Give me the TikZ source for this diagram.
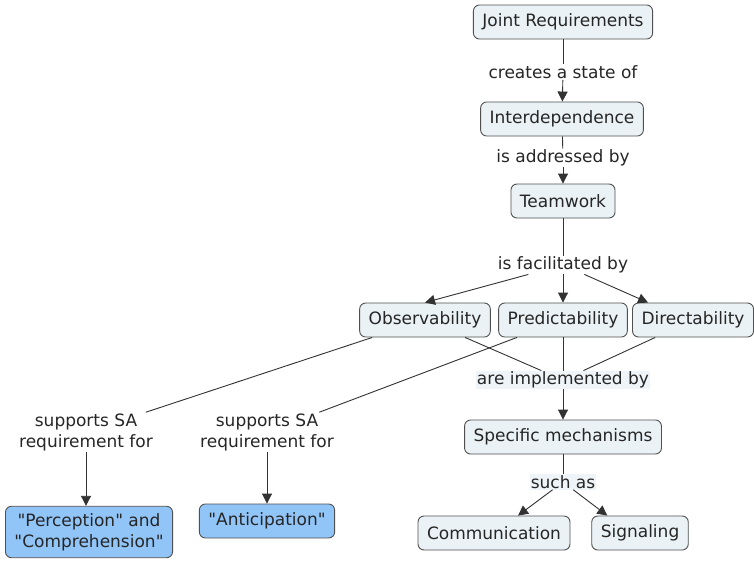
\documentclass[tikz,border=0pt]{standalone}
\usepackage{fontspec}
\setmainfont{DejaVu Sans}
\usetikzlibrary{arrows.meta,calc}
\definecolor{conceptfill}{RGB}{234,242,245}
\definecolor{conceptline}{RGB}{80,80,80}
\definecolor{keyfill}{RGB}{145,196,247}
\definecolor{linkline}{RGB}{50,50,50}
\definecolor{phrasefill}{RGB}{238,244,247}
\begin{document}
\begin{tikzpicture}[x=1pt,y=-1pt,
  font=\fontsize{17}{21}\selectfont,
  concept/.style={draw=conceptline, fill=conceptfill, rounded corners=6pt,
    line width=0.9pt, inner xsep=9pt, minimum height=34pt, text=black!85},
  keyconcept/.style={concept, fill=keyfill, align=center},
  linkphrase/.style={inner sep=1pt, align=center, text=black!85},
  shaded/.style={fill=phrasefill},
  conn/.style={draw=linkline, line width=0.9pt},
  arr/.style={conn, -{Triangle[length=10pt,width=10pt]}}]
\useasboundingbox[fill=white] (0,0) rectangle (754,560);

% concepts
\node[concept] (jr)   at (563,22)  {Joint Requirements};
\node[concept] (int)  at (562,119) {Interdependence};
\node[concept] (tw)   at (563,201) {Teamwork};
\node[concept] (obs)  at (425,320) {Observability};
\node[concept] (pred) at (563,320) {Predictability};
\node[concept] (dir)  at (693,320) {Directability};
\node[concept] (spec) at (563,437) {Specific mechanisms};
\node[concept] (comm) at (494,533) {Communication};
\node[concept] (sig)  at (640,533) {Signaling};
\node[keyconcept, inner ysep=7pt] (pc) at (89,532)
  {\textquotedbl Perception\textquotedbl{} and\\\textquotedbl Comprehension\textquotedbl};
\node[keyconcept] (ant) at (267,521) {\textquotedbl Anticipation\textquotedbl};

% linking phrases
\node[linkphrase] (l1) at (563,72)  {creates a state of};
\node[linkphrase] (l2) at (563,158) {is addressed by};
\node[linkphrase] (l3) at (563,265) {is facilitated by};
\node[linkphrase, shaded] (l4) at (563,380) {are implemented by};
\node[linkphrase, shaded] (l5) at (563,482) {such as};
\node[linkphrase] (sa1) at (86,432)  {supports SA\\requirement for};
\node[linkphrase] (sa2) at (267,432) {supports SA\\requirement for};

% connections
\draw[conn] (jr) -- (l1);
\draw[arr]  (l1) -- (int);
\draw[conn] (int) -- (l2);
\draw[arr]  (l2) -- (tw);
\draw[conn] (tw) -- (l3);
\draw[arr]  (l3) -- (obs.north);
\draw[arr]  (l3) -- (pred);
\draw[arr]  (l3) -- ($(dir.north west)+(16,0)$);
\draw[conn] (obs) -- (l4);
\draw[conn] (pred) -- (l4);
\draw[conn] (dir) -- (l4);
\draw[arr]  (l4) -- (spec);
\draw[conn] (spec) -- (l5);
\draw[arr]  (l5) -- ($(comm.north)+(24,0)$);
\draw[arr]  (l5) -- ($(sig.north west)+(16,0)$);
\draw[conn] (obs) -- (sa1);
\draw[conn] (pred) -- (sa2);
\draw[arr]  (sa1.south) -- (sa1.south |- pc.north);
\draw[arr]  (sa2) -- (ant);
\end{tikzpicture}
\end{document}
